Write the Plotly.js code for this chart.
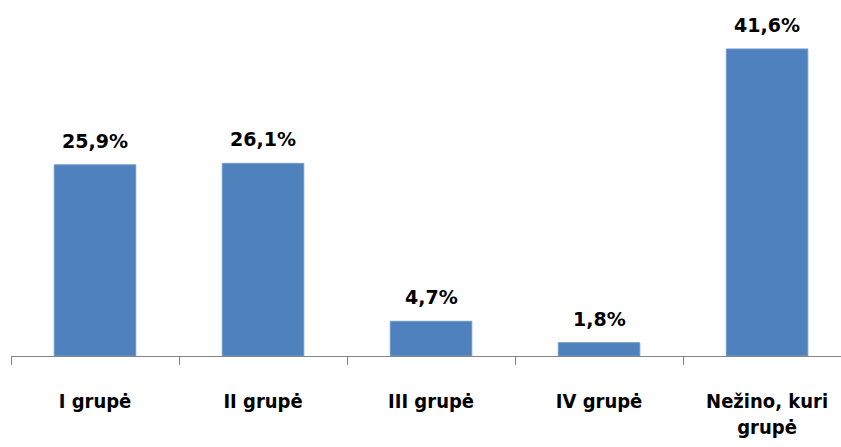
<!DOCTYPE html>
<html>
<head>
<meta charset="utf-8">
<script src="https://cdn.plot.ly/plotly-3.0.1.min.js"></script>
<style>html,body{margin:0;padding:0;background:#fff;}#chart{width:841px;height:447px;}</style>
</head>
<body>
<div id="chart"></div>
<script>
var categories = ["I grupė", "II grupė", "III grupė", "IV grupė", "Nežino, kuri grupė"];
var tickLabels = ["I grupė", "II grupė", "III grupė", "IV grupė", "Nežino, kuri<br>grupė"];
var values = [25.9, 26.1, 4.7, 1.8, 41.6];
var valueLabels = ["25,9%", "26,1%", "4,7%", "1,8%", "41,6%"];

var fontFam = "DejaVu Sans, Verdana, sans-serif";
var tickFam = "DejaVu Sans Condensed, Liberation Sans Narrow, DejaVu Sans, sans-serif";

var trace = {
  type: "bar",
  x: categories,
  y: values,
  marker: {color: "#4F81BD", line: {color: "#6E97CB", width: 1}},
  hoverinfo: "none"
};

var annotations = categories.map(function(c, i){
  return {
    x: c, y: values[i], xref: "x", yref: "y",
    text: "<b>" + valueLabels[i] + "</b>",
    showarrow: false, yanchor: "bottom", yshift: 11,
    font: {family: fontFam, size: 19, color: "#000"}
  };
});

var layout = {
  width: 841, height: 447,
  margin: {l: 11, r: 0, t: 5, b: 91},
  paper_bgcolor: "#fff", plot_bgcolor: "#fff",
  showlegend: false,
  bargap: 0.515,
  xaxis: {
    type: "category",
    range: [-0.5, 4.44],
    tickvals: categories,
    ticktext: tickLabels.map(function(t){return "<b>" + t + "</b>";}),
    tickson: "boundaries",
    ticks: "outside", ticklen: 8, tickcolor: "#868686", tickwidth: 1,
    showline: true, linecolor: "#868686", linewidth: 1,
    showgrid: false, zeroline: false,
    ticklabelstandoff: 27,
    tickfont: {family: tickFam, size: 20, color: "#000"},
    fixedrange: true
  },
  yaxis: {
    range: [0, 47.56],
    visible: false, showgrid: false, zeroline: false, fixedrange: true
  },
  annotations: annotations
};

Plotly.newPlot("chart", [trace], layout, {displayModeBar: false, staticPlot: true});
</script>
</body>
</html>
